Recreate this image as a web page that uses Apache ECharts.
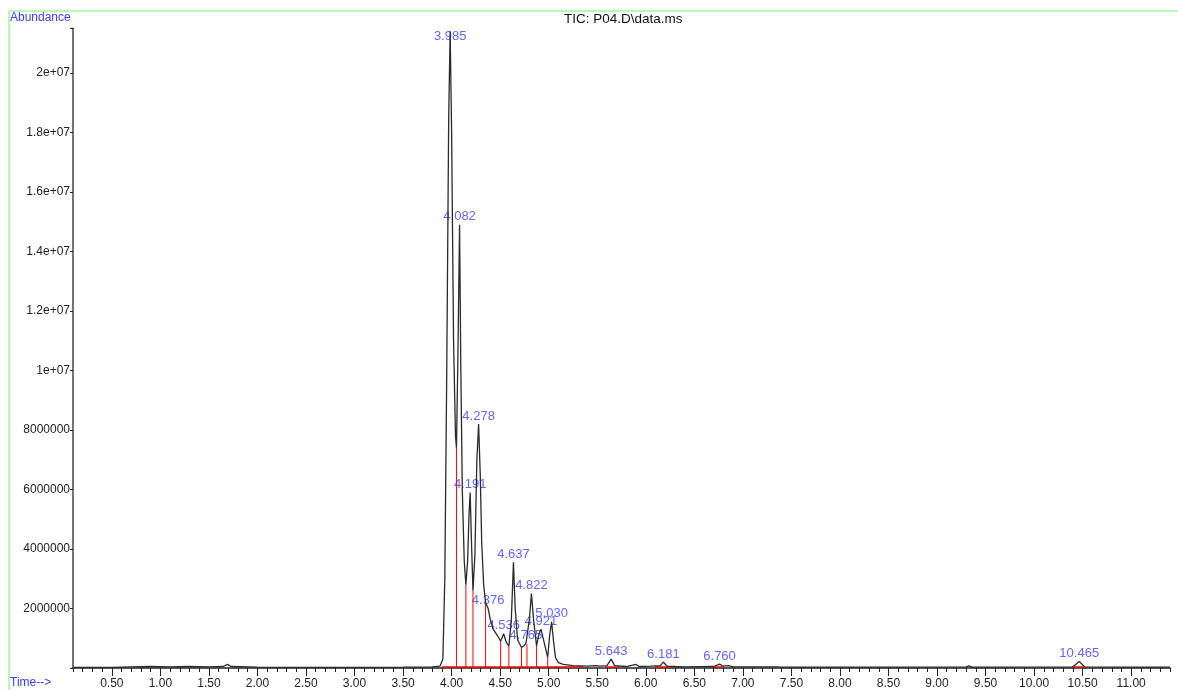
<!DOCTYPE html>
<html>
<head>
<meta charset="utf-8">
<script src="https://cdn.jsdelivr.net/npm/echarts@6/dist/echarts.min.js"></script>
<style>
html,body{margin:0;padding:0;background:#fff;}
#chart{width:1178px;height:690px;}
</style>
</head>
<body>
<div id="chart"></div>
<script>
// Chromatogram trace: retention time (min) and abundance
const times = [0.10,0.50,0.70,0.90,1.10,1.30,1.50,1.65,1.69,1.73,2.00,2.50,3.00,3.50,3.80,3.88,
  3.91,3.93,3.95,3.97,3.985,4.00,4.02,4.04,4.05,4.065,4.082,4.095,4.11,4.13,4.147,4.165,4.18,4.191,
  4.205,4.22,4.24,4.26,4.278,4.295,4.31,4.33,4.35,4.376,4.40,4.43,4.47,4.505,4.536,4.565,4.59,
  4.615,4.637,4.655,4.68,4.72,4.745,4.765,4.776,4.80,4.822,4.845,4.875,4.90,4.921,4.95,4.99,
  5.01,5.03,5.05,5.07,5.10,5.15,5.25,5.40,5.48,5.50,5.53,5.60,5.643,5.68,5.80,5.90,5.93,6.05,
  6.15,6.181,6.22,6.30,6.40,6.70,6.760,6.80,6.85,6.90,7.35,7.37,7.40,8.00,8.55,8.57,8.60,9.30,
  9.33,9.36,10.40,10.465,10.52,11.00,11.40];
const abundance = [0.02e6,0.02e6,0.04e6,0.05e6,0.04e6,0.05e6,0.04e6,0.05e6,0.12e6,0.05e6,0.03e6,0.02e6,0.02e6,0.03e6,0.04e6,0.06e6,
  0.3e6,3.0e6,10.0e6,18.5e6,21.4e6,18.0e6,11.0e6,7.8e6,7.4e6,10.5e6,14.9e6,10.0e6,6.0e6,3.6e6,2.8e6,3.6e6,5.2e6,5.9e6,
  4.2e6,2.6e6,3.8e6,7.0e6,8.2e6,6.5e6,4.2e6,2.8e6,2.2e6,2.0e6,1.6e6,1.3e6,1.1e6,0.9e6,1.15e6,0.85e6,0.74e6,
  1.6e6,3.55e6,2.0e6,0.95e6,0.69e6,0.75e6,0.82e6,0.8e6,1.6e6,2.5e6,1.6e6,0.74e6,1.15e6,1.3e6,0.9e6,0.36e6,
  1.1e6,1.55e6,0.9e6,0.35e6,0.18e6,0.12e6,0.08e6,0.06e6,0.08e6,0.12e6,0.06e6,0.08e6,0.3e6,0.08e6,0.05e6,0.12e6,0.05e6,0.06e6,
  0.08e6,0.2e6,0.06e6,0.05e6,0.04e6,0.05e6,0.13e6,0.06e6,0.08e6,0.04e6,0.04e6,0.08e6,0.03e6,0.03e6,0.03e6,0.08e6,0.03e6,0.04e6,
  0.07e6,0.03e6,0.04e6,0.22e6,0.04e6,0.03e6,0.03e6];

// Peak apex labels
const peakLabels = ['3.985','4.082','4.191','4.278','4.376','4.536','4.637','4.765','4.822','4.921','5.030','5.643','6.181','6.760','10.465'];
const peakTimes = [3.985,4.082,4.191,4.278,4.376,4.536,4.637,4.765,4.822,4.921,5.030,5.643,6.181,6.760,10.465];
const peakHeights = [21.4e6,14.9e6,5.9e6,8.2e6,2.0e6,1.15e6,3.55e6,0.82e6,2.5e6,1.3e6,1.55e6,0.3e6,0.2e6,0.13e6,0.22e6];

// Integration drop lines (red)
const dropTimes = [4.05,4.147,4.22,4.35,4.505,4.59,4.72,4.776,4.875,4.99];
const dropHeights = [7.4e6,2.8e6,2.6e6,2.2e6,0.9e6,0.74e6,0.69e6,0.8e6,0.74e6,0.36e6];

// Integration baselines (red)
const baseStart = [3.90,5.58,6.09,6.69,10.39];
const baseEnd   = [5.36,5.73,6.30,6.80,10.52];

// Axis ticks / labels
const xMajor = [0.5,1.0,1.5,2.0,2.5,3.0,3.5,4.0,4.5,5.0,5.5,6.0,6.5,7.0,7.5,8.0,8.5,9.0,9.5,10.0,10.5,11.0];
const yLabelMap = {2000000:'2000000',4000000:'4000000',6000000:'6000000',8000000:'8000000',10000000:'1e+07',
  12000000:'1.2e+07',14000000:'1.4e+07',16000000:'1.6e+07',18000000:'1.8e+07',20000000:'2e+07'};

const FONT = '"Liberation Sans", Arial, sans-serif';
const BLUE = '#3a3aff';
const Y_MAX = 21.5e6;

const chart = echarts.init(document.getElementById('chart'), null, {renderer:'canvas'});
const xCommon = {type:'value', min:0.1, max:11.4, gridIndex:0, splitLine:{show:false}};
chart.setOption({
  animation:false,
  backgroundColor:'#fff',
  grid:{left:73, right:8, top:28.3, bottom:21.4, containLabel:false},
  xAxis:[
    Object.assign({}, xCommon, {
      interval:0.1,
      axisLine:{show:true, lineStyle:{color:'#222', width:1.5}},
      axisTick:{show:true, length:4, lineStyle:{color:'#222', width:1}},
      axisLabel:{show:false}
    }),
    Object.assign({}, xCommon, {
      position:'bottom',
      axisLine:{show:false},
      axisTick:{show:true, length:8, customValues:xMajor, lineStyle:{color:'#222', width:1}},
      axisLabel:{show:true, customValues:xMajor, margin:10, fontFamily:FONT, fontSize:12, color:'#222',
        formatter:v=>v.toFixed(2)}
    })
  ],
  yAxis:{type:'value', min:0, max:Y_MAX, interval:2e6,
    axisLine:{show:true, lineStyle:{color:'#444', width:1.5}},
    axisTick:{show:true, length:3, lineStyle:{color:'#222'}},
    splitLine:{show:false},
    axisLabel:{margin:3, fontFamily:FONT, fontSize:12, color:'#222',
      formatter:v=>yLabelMap[Math.round(v)]||''}
  },
  graphic:[
    {type:'line', shape:{x1:9, y1:11, x2:1178, y2:11}, style:{stroke:'#a4f5a4', lineWidth:1.5}, silent:true},
    {type:'line', shape:{x1:9, y1:11, x2:9, y2:690}, style:{stroke:'#a4f5a4', lineWidth:1.5}, silent:true},
    {type:'text', left:10, top:12, style:{text:'Abundance', fill:BLUE, font:'12px '+FONT}},
    {type:'text', left:10, top:677, style:{text:'Time-->', fill:BLUE, font:'12px '+FONT}},
    {type:'text', left:564, top:12, style:{text:'TIC: P04.D\\data.ms', fill:'#111', font:'13.5px '+FONT}}
  ],
  series:[
    {type:'scatter', xAxisIndex:0, z:1, symbolSize:1, itemStyle:{color:'rgba(0,0,0,0)'},
      data:peakTimes.map((t,i)=>{
        const item = {value:[t,peakHeights[i]]};
        // label that would leave the plot is pushed down onto the apex
        if (peakHeights[i] > 0.95*Y_MAX) item.label = {offset:[0,13]};
        return item;
      }),
      label:{show:true, position:'top', distance:1, fontFamily:FONT, fontSize:13, color:BLUE,
        formatter:p=>peakLabels[p.dataIndex]}},
    {type:'custom', xAxisIndex:0, z:2,
      data:baseStart.map((s,i)=>[s,baseEnd[i],0]),
      encode:{x:[0,1], y:2},
      renderItem:(params, api)=>{
        const a = api.coord([api.value(0),0]);
        const b = api.coord([api.value(1),0]);
        return {type:'line', shape:{x1:a[0], y1:a[1]-1, x2:b[0], y2:b[1]-1}, style:{stroke:'#ff0000', lineWidth:1.5}};
      }},
    {type:'custom', xAxisIndex:0, z:2,
      data:dropTimes.map((t,i)=>[t,dropHeights[i]]),
      encode:{x:0, y:1},
      renderItem:(params, api)=>{
        const a = api.coord([api.value(0),0]);
        const b = api.coord([api.value(0),api.value(1)]);
        return {type:'line', shape:{x1:a[0], y1:a[1], x2:b[0], y2:b[1]}, style:{stroke:'#ff0000', lineWidth:1}};
      }},
    {type:'line', xAxisIndex:0, z:3, symbol:'none', smooth:false,
      lineStyle:{color:'#2a2a2a', width:1.3},
      data:times.map((t,i)=>[t,abundance[i]])}
  ]
});
</script>
</body>
</html>
